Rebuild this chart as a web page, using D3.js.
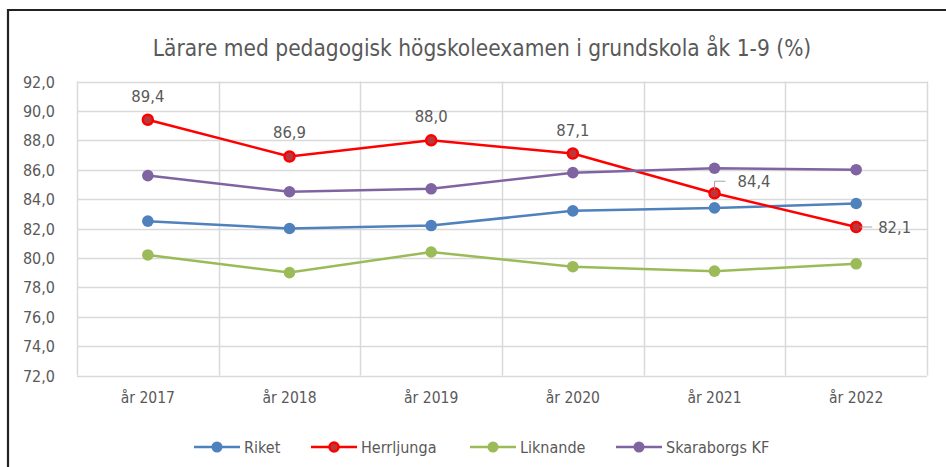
<!DOCTYPE html>
<html>
<head>
<meta charset="utf-8">
<script src="https://cdn.jsdelivr.net/npm/d3@7"></script>
<style>
  body { margin: 0; background: #fff; }
  svg text { font-family: "DejaVu Sans Condensed", "DejaVu Sans", sans-serif; fill: #595959; }
</style>
</head>
<body>
<div id="chart"></div>
<script>
var years = ["år 2017", "år 2018", "år 2019", "år 2020", "år 2021", "år 2022"];
var riket = [82.5, 82.0, 82.2, 83.2, 83.4, 83.7];
var herrljunga = [89.4, 86.9, 88.0, 87.1, 84.4, 82.1];
var liknande = [80.2, 79.0, 80.4, 79.4, 79.1, 79.6];
var skaraborg = [85.6, 84.5, 84.7, 85.8, 86.1, 86.0];
var yTicks = [72, 74, 76, 78, 80, 82, 84, 86, 88, 90, 92];

var series = [
    { name: "Riket", values: riket, color: "#4f81bd", fill: "#4f81bd" },
    { name: "Herrljunga", values: herrljunga, color: "#ff0000", fill: "#b8383c" },
    { name: "Liknande", values: liknande, color: "#9bbb59", fill: "#9bbb59" },
    { name: "Skaraborgs KF", values: skaraborg, color: "#8064a2", fill: "#8064a2" }
];

var width = 946, height = 467;
var plot = { left: 77, right: 927, top: 81.5, bottom: 375.5 };

var svg = d3.select("#chart").append("svg")
    .attr("width", width)
    .attr("height", height);

// frame around the chart
svg.append("path")
    .attr("d", "M8,467 L8,10 L946,10")
    .attr("fill", "none")
    .attr("stroke", "#222")
    .attr("stroke-width", 2.2);

svg.append("text")
    .attr("x", 482)
    .attr("y", 56)
    .attr("text-anchor", "middle")
    .style("font-size", "22.5px")
    .text("Lärare med pedagogisk högskoleexamen i grundskola åk 1-9 (%)");

var x = d3.scaleBand()
    .domain(years)
    .range([plot.left, plot.right])
    .padding(0);

var y = d3.scaleLinear()
    .domain([72, 92])
    .range([plot.bottom, plot.top]);

function cx(i) { return x(years[i]) + x.bandwidth() / 2; }

// horizontal grid
svg.append("g")
    .selectAll("line")
    .data(yTicks)
    .enter()
    .append("line")
    .attr("x1", plot.left)
    .attr("x2", plot.right)
    .attr("y1", function(d) { return Math.round(y(d)) + 0.5; })
    .attr("y2", function(d) { return Math.round(y(d)) + 0.5; })
    .attr("stroke", "#d9d9d9")
    .attr("stroke-width", 1.5);

// vertical grid at category edges
var edges = years.map(function(d) { return x(d); }).concat([plot.right]);
svg.append("g")
    .selectAll("line")
    .data(edges)
    .enter()
    .append("line")
    .attr("x1", function(d) { return Math.round(d) + 0.5; })
    .attr("x2", function(d) { return Math.round(d) + 0.5; })
    .attr("y1", plot.top)
    .attr("y2", plot.bottom)
    .attr("stroke", "#d9d9d9")
    .attr("stroke-width", 1.5);

// y axis labels
var yAxis = svg.append("g")
    .attr("transform", "translate(" + (plot.left - 19) + ",0)")
    .call(d3.axisLeft(y).tickValues(yTicks).tickSize(0)
        .tickFormat(function(d) { return d3.format(".1f")(d).replace(".", ","); }));
yAxis.select(".domain").remove();
yAxis.selectAll("text").style("font-size", "16px").attr("dy", "0.35em");

// x axis labels
var xAxis = svg.append("g")
    .attr("transform", "translate(0," + (plot.bottom + 13) + ")")
    .call(d3.axisBottom(x).tickSize(0));
xAxis.select(".domain").remove();
xAxis.selectAll("text").style("font-size", "15.5px");

// lines and markers
var line = d3.line()
    .x(function(d, i) { return cx(i); })
    .y(function(d) { return y(d); });

series.forEach(function(s) {
    svg.append("path")
        .datum(s.values)
        .attr("d", line)
        .attr("fill", "none")
        .attr("stroke", s.color)
        .attr("stroke-width", 2.5);
});

series.forEach(function(s) {
    svg.append("g")
        .selectAll("circle")
        .data(s.values)
        .enter()
        .append("circle")
        .attr("cx", function(d, i) { return cx(i); })
        .attr("cy", function(d) { return y(d); })
        .attr("r", s.name == "Herrljunga" ? 5 : 5.8)
        .attr("fill", s.fill)
        .attr("stroke", s.color)
        .attr("stroke-width", s.name == "Herrljunga" ? 2.5 : 0);
});

// data labels for Herrljunga
function fmt(v) { return d3.format(".1f")(v).replace(".", ","); }

var labels = svg.append("g");
herrljunga.forEach(function(v, i) {
    var px = cx(i), py = y(v);
    if (i < 4) {
        labels.append("text")
            .attr("x", px)
            .attr("y", py - 18)
            .attr("text-anchor", "middle")
            .style("font-size", "16.5px")
            .text(fmt(v));
    } else if (i == 4) {
        labels.append("path")
            .attr("d", "M" + px + "," + (py - 4) + " L" + px + "," + (py - 12) + " L" + (px + 11) + "," + (py - 12))
            .attr("fill", "none")
            .attr("stroke", "#a6a6a6")
            .attr("stroke-width", 1);
        labels.append("text")
            .attr("x", px + 23)
            .attr("y", py - 6)
            .style("font-size", "16.5px")
            .text(fmt(v));
    } else {
        labels.append("path")
            .attr("d", "M" + (px + 4) + "," + py + " L" + (px + 16) + "," + py)
            .attr("fill", "none")
            .attr("stroke", "#a6a6a6")
            .attr("stroke-width", 1);
        labels.append("text")
            .attr("x", px + 22)
            .attr("y", py + 6)
            .style("font-size", "16.5px")
            .text(fmt(v));
    }
});

// legend
var legendX = [194, 311, 470, 616];
var legendY = 447;
var leg = svg.append("g");
series.forEach(function(s, i) {
    var lx = legendX[i];
    leg.append("line")
        .attr("x1", lx).attr("x2", lx + 46)
        .attr("y1", legendY).attr("y2", legendY)
        .attr("stroke", s.color)
        .attr("stroke-width", 2.5);
    leg.append("circle")
        .attr("cx", lx + 23).attr("cy", legendY)
        .attr("r", s.name == "Herrljunga" ? 4.5 : 5.5)
        .attr("fill", s.fill)
        .attr("stroke", s.color)
        .attr("stroke-width", s.name == "Herrljunga" ? 2.5 : 0);
    leg.append("text")
        .attr("x", lx + 50)
        .attr("y", legendY)
        .attr("dy", "0.35em")
        .style("font-size", "16px")
        .text(s.name);
});
</script>
</body>
</html>
